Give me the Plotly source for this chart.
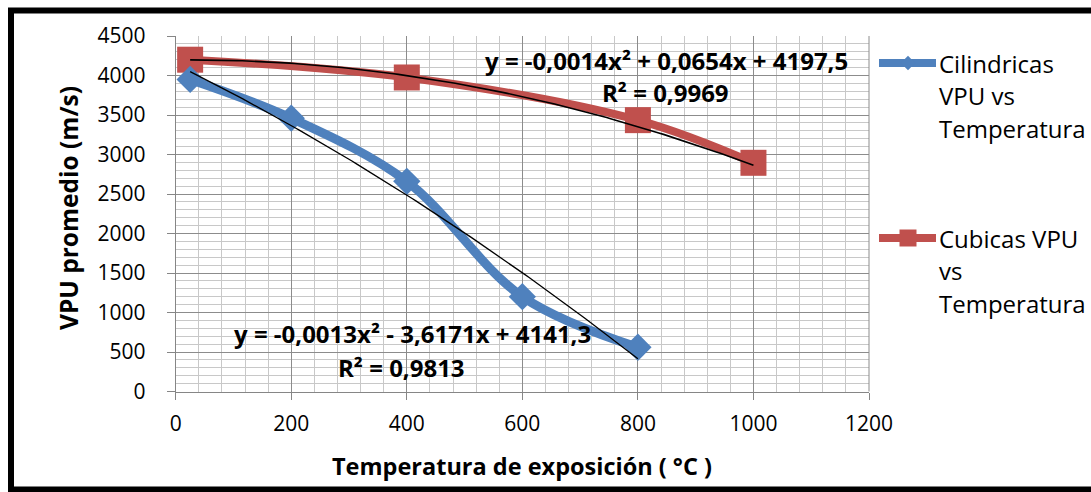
import numpy as np
import plotly.graph_objects as go

# Measured series
temp_cil = [25, 200, 400, 600, 800]
vpu_cil = [3950, 3460, 2660, 1200, 560]
temp_cub = [25, 400, 800, 1000]
vpu_cub = [4200, 3975, 3435, 2895]

# Polynomial trendlines (a, b, c) of y = a*x^2 + b*x + c, as stated on the chart
fit_cil = (-0.0013, -3.6171, 4141.3)
fit_cub = (-0.0014, 0.0654, 4197.5)
eq_cil = ["y = -0,0013x² - 3,6171x + 4141,3", "R² = 0,9813"]
eq_cub = ["y = -0,0014x² + 0,0654x + 4197,5", "R² = 0,9969"]

name_cil = ["Cilindricas", "VPU vs", "Temperatura"]
name_cub = ["Cubicas VPU", "vs", "Temperatura"]

x_ticks = [0, 200, 400, 600, 800, 1000, 1200]
y_ticks = [0, 500, 1000, 1500, 2000, 2500, 3000, 3500, 4000, 4500]

BLUE = "#4F81BD"
RED = "#C0504D"
FONT = "'Open Sans', Lato, sans-serif"
W, H = 1091, 492

# plot area in pixels
PX0, PX1 = 175.7, 869.0
PY0, PY1 = 36.0, 391.5

fig = go.Figure()


def trend(coefs, xs):
    a, b, c = coefs
    xs = np.asarray(xs, dtype=float)
    return a * xs ** 2 + b * xs + c


# data lines (smoothed)
fig.add_trace(go.Scatter(
    x=temp_cub, y=vpu_cub, mode="lines+markers",
    line=dict(color=RED, width=8, shape="spline"),
    marker=dict(symbol="square", size=26, color=RED),
    showlegend=False, cliponaxis=False))
fig.add_trace(go.Scatter(
    x=temp_cil, y=vpu_cil, mode="lines+markers",
    line=dict(color=BLUE, width=9, shape="spline"),
    marker=dict(symbol="diamond", size=21, color=BLUE),
    showlegend=False, cliponaxis=False))

# trendlines
xs_cil = np.linspace(min(temp_cil), max(temp_cil), 120)
xs_cub = np.linspace(min(temp_cub), max(temp_cub), 120)
fig.add_trace(go.Scatter(x=xs_cil, y=trend(fit_cil, xs_cil), mode="lines",
                         line=dict(color="black", width=1.3), showlegend=False))
fig.add_trace(go.Scatter(x=xs_cub, y=trend(fit_cub, xs_cub), mode="lines",
                         line=dict(color="black", width=1.6), showlegend=False))

# legend drawn on a full-figure pixel layer
legend_items = [(BLUE, "diamond", 11, 63, name_cil), (RED, "square", 17, 238, name_cub)]
for color, sym, msize, ly, lines in legend_items:
    fig.add_trace(go.Scatter(
        x=[879, 936], y=[ly, ly], mode="lines", xaxis="x2", yaxis="y2",
        line=dict(color=color, width=8), showlegend=False, hoverinfo="skip"))
    fig.add_trace(go.Scatter(
        x=[908], y=[ly], mode="markers", xaxis="x2", yaxis="y2",
        marker=dict(symbol=sym, size=msize, color=color),
        showlegend=False, hoverinfo="skip"))

annotations = []
for color, sym, msize, ly, lines in legend_items:
    for i, txt in enumerate(lines):
        annotations.append(dict(
            x=937, y=ly + i * 32.5, xref="x2", yref="y2", text=txt, showarrow=False,
            xanchor="left", yanchor="middle", font=dict(family=FONT, size=24, color="black")))

# trendline equations
for (cx, cy), lines in [((666, 60), eq_cub), ((412, 333), eq_cil)]:
    annotations.append(dict(
        x=cx, y=cy, xref="x2", yref="y2", text=lines[0], showarrow=False,
        xanchor="center", yanchor="middle",
        font=dict(family=FONT, size=24, color="black", weight="bold")))
for (cx, cy), lines in [((665, 92), eq_cub), ((401, 367), eq_cil)]:
    annotations.append(dict(
        x=cx, y=cy, xref="x2", yref="y2", text=lines[1], showarrow=False,
        xanchor="center", yanchor="middle",
        font=dict(family=FONT, size=24, color="black", weight="bold")))

# axis titles
annotations.append(dict(
    x=522, y=466, xref="x2", yref="y2", text="Temperatura de exposición ( °C )",
    showarrow=False, xanchor="center", yanchor="middle",
    font=dict(family=FONT, size=23.5, color="black", weight="bold")))
annotations.append(dict(
    x=68, y=208, xref="x2", yref="y2", text="VPU promedio (m/s)", textangle=-90,
    showarrow=False, xanchor="center", yanchor="middle",
    font=dict(family=FONT, size=24.5, color="black", weight="bold")))

fig.update_layout(
    width=W, height=H,
    margin=dict(l=0, r=0, t=0, b=0, pad=0),
    paper_bgcolor="white", plot_bgcolor="rgba(0,0,0,0)",
    font=dict(family=FONT, size=20, color="black"),
    showlegend=False,
    annotations=annotations,
    xaxis=dict(
        domain=[PX0 / W, PX1 / W], range=[0, 1200], automargin=False,
        tickvals=x_ticks, ticktext=[str(v) for v in x_ticks],
        ticks="outside", ticklen=7, tickcolor="#868686",
        showline=True, linecolor="#868686", linewidth=1,
        showgrid=True, gridcolor="#8c8c8c", gridwidth=1,
        minor=dict(dtick=40, showgrid=True, gridcolor="#c8c8c8", gridwidth=1),
        zeroline=False, ticklabelstandoff=6,
        tickfont=dict(family=FONT, size=21, color="black"),
    ),
    yaxis=dict(
        domain=[(H - PY1) / H, (H - PY0) / H], range=[0, 4500], automargin=False,
        tickvals=y_ticks, ticktext=[str(v) for v in y_ticks],
        ticks="outside", ticklen=8, tickcolor="#868686",
        showline=True, linecolor="#868686", linewidth=1,
        showgrid=True, gridcolor="#8c8c8c", gridwidth=1,
        minor=dict(dtick=100, showgrid=True, gridcolor="#c8c8c8", gridwidth=1),
        zeroline=False, ticklabelstandoff=17,
        tickfont=dict(family=FONT, size=21, color="black"),
    ),
    xaxis2=dict(domain=[0, 1], range=[0, W], anchor="y2", automargin=False,
                visible=False, fixedrange=True),
    yaxis2=dict(domain=[0, 1], range=[H, 0], anchor="x2", automargin=False,
                visible=False, fixedrange=True),
    shapes=[
        # right edge of the plot area
        dict(type="line", xref="paper", yref="paper",
             x0=PX1 / W, x1=PX1 / W, y0=(H - PY1) / H, y1=(H - PY0) / H,
             line=dict(color="#8c8c8c", width=1)),
        # outer frame of the chart
        dict(type="rect", xref="paper", yref="paper",
             x0=11 / W, x1=1100 / W, y0=(H - 489.5) / H, y1=(H - 10.5) / H,
             line=dict(color="black", width=6), layer="above"),
    ],
)

fig.write_html("out.html")
